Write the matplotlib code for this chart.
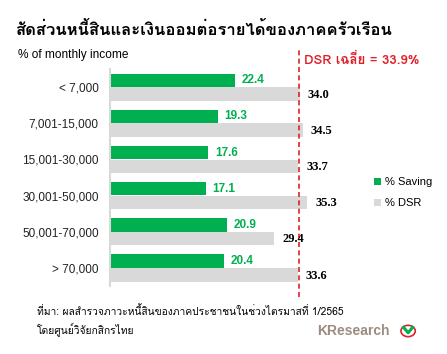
import matplotlib
matplotlib.use("Agg")
import matplotlib.pyplot as plt
from matplotlib.patches import Circle

# data
categories = ["< 7,000", "7,001-15,000", "15,001-30,000", "30,001-50,000",
              "50,001-70,000", "> 70,000"]
saving = [22.4, 19.3, 17.6, 17.1, 20.9, 20.4]
dsr = [34.0, 34.5, 33.7, 35.3, 29.4, 33.6]
dsr_avg = 33.9

green = "#00B050"
grey = "#D9D9D9"
red = "#E0202A"
thai = ["Loma", "DejaVu Sans"]

fig = plt.figure(figsize=(4.47, 3.54), dpi=100)
ax = fig.add_axes([0.246, 0.192, 0.50, 0.613])

y = list(range(len(categories)))
ax.barh([i - 0.19 for i in y], saving, height=0.37, color=green, label="% Saving")
ax.barh([i + 0.19 for i in y], dsr, height=0.37, color=grey, label="% DSR")

for i in y:
    ax.text(saving[i] + 1.2, i - 0.19, f"{saving[i]:.1f}", color=green,
            fontsize=8.5, fontweight="bold", family="Liberation Sans", va="center")
    ax.text(dsr[i] + 1.4, i + 0.21, f"{dsr[i]:.1f}", color="black",
            fontsize=9, fontweight="bold", family="Liberation Serif", va="center")

ax.set_xlim(0, 40)
ax.set_ylim(5.5, -0.5)
ax.set_yticks(y)
ax.set_yticklabels(categories, family="Liberation Sans", fontsize=8.5, color="#222222")
ax.set_xticks([])
ax.tick_params(axis="y", length=0, pad=8)
for s in ["top", "right", "bottom"]:
    ax.spines[s].set_visible(False)
ax.spines["left"].set_color(grey)
ax.spines["left"].set_linewidth(1.5)

ax.axvline(dsr_avg, ymin=-0.05, ymax=1.088, color=red, linestyle=(0, (3, 2)),
           linewidth=1.2, clip_on=False)

fig.text(0.681, 0.830, "DSR เฉลี่ย = 33.9%", color=red, fontsize=9.5,
         fontweight="bold", family=thai, va="center")

leg = fig.legend(loc="upper left", bbox_to_anchor=(0.815, 0.528), frameon=False,
                 prop={"family": "Liberation Sans", "size": 8},
                 handlelength=0.6, handleheight=0.6, handletextpad=0.4,
                 labelspacing=1.0)

fig.text(0.034, 0.918, "สัดส่วนหนี้สินและเงินออมต่อรายได้ของภาคครัวเรือน", fontsize=12,
         fontweight="bold", family=thai, va="center")
fig.text(0.040, 0.845, "% of monthly income", fontsize=8.6,
         family="Liberation Sans", va="center")

fig.text(0.083, 0.121, "ที่มา: ผลสำรวจภาวะหนี้สินของภาคประชาชนในช่วงไตรมาสที่ 1/2565",
         fontsize=7.4, family=thai, va="center")
fig.text(0.083, 0.070, "โดยศูนย์วิจัยกสิกรไทย", fontsize=7.4, family=thai, va="center")

fig.text(0.710, 0.065, "KResearch", fontsize=10, fontweight="bold",
         color="#9C8C80", family="Liberation Sans", va="center")
fig.patches.append(Circle((0.913, 0.065), 0.016, transform=fig.transFigure,
                          facecolor="white", edgecolor=red, linewidth=1.2))
fig.lines.append(plt.Line2D([0.903, 0.913, 0.923], [0.075, 0.060, 0.075],
                            transform=fig.transFigure, color=green, linewidth=2.2))

fig.savefig("out.png")
